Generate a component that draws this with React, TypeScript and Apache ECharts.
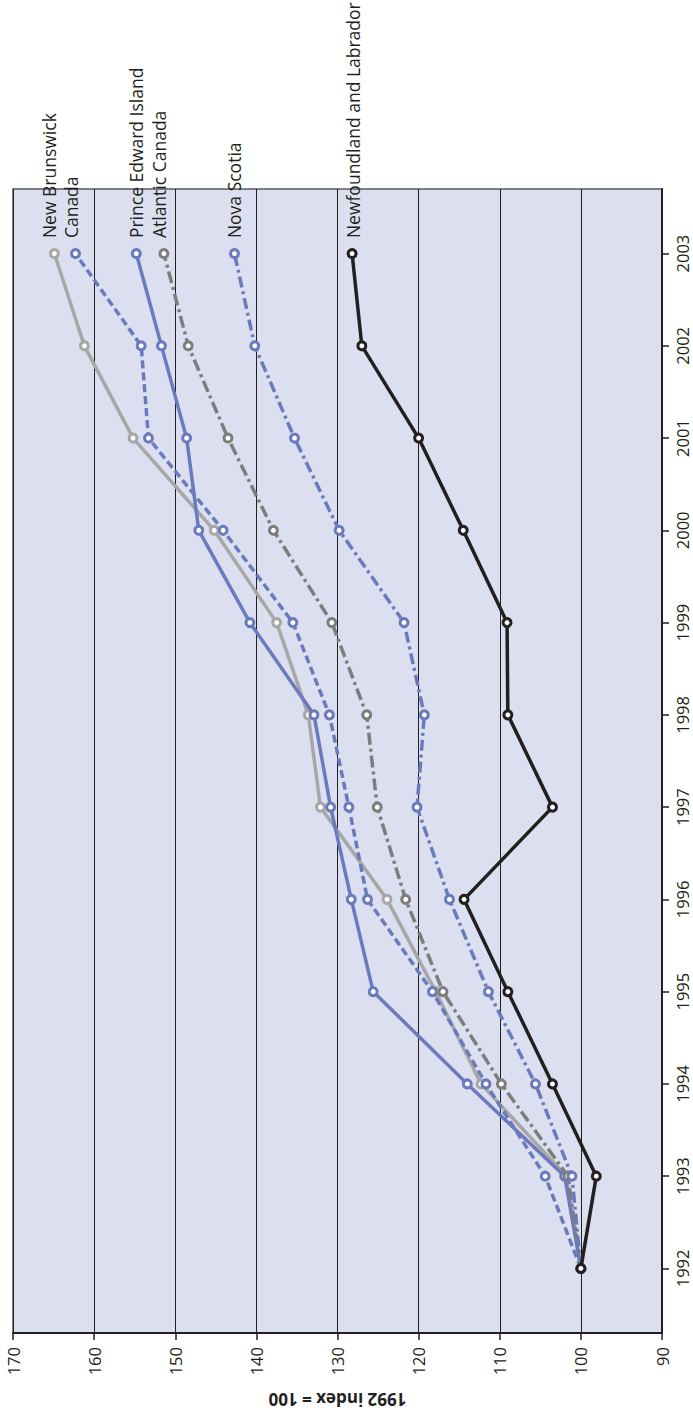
import React, { useEffect, useRef } from 'react';
import * as echarts from 'echarts';

// Years (values on the vertical axis)
const years = [1992, 1993, 1994, 1995, 1996, 1997, 1998, 1999, 2000, 2001, 2002, 2003];

// Index values, 1992 = 100
const newfoundland = [100, 98.1, 103.5, 109.0, 114.4, 103.5, 109.0, 109.1, 114.5, 120.0, 127.0, 128.2];
const newBrunswick = [100, 101.8, 112.3, 117.9, 123.9, 132.1, 133.6, 137.5, 145.2, 155.2, 161.2, 164.9];
const canada = [100, 104.4, 111.7, 118.3, 126.3, 128.6, 131.0, 135.5, 144.1, 153.3, 154.2, 162.3];
const princeEdward = [100, 102.0, 114.0, 125.6, 128.3, 130.85, 132.9, 140.8, 147.1, 148.6, 151.7, 154.8];
const atlantic = [100, 101.6, 109.8, 117.0, 121.6, 125.1, 126.4, 130.7, 137.9, 143.5, 148.4, 151.4];
const novaScotia = [100, 101.1, 105.6, 111.4, 116.2, 120.2, 119.3, 121.8, 129.8, 135.3, 140.2, 142.7];

const axisName = '1992 index = 100';

const FONT = "'Open Sans', 'Noto Sans', sans-serif";
const TEXT = '#231f20';
const BLUE = '#6a7abd';
const LIGHT_GRAY = '#a7a7a7';
const DARK_GRAY = '#7d7d7d';
const BLACK = '#231f20';
const BG = '#dcdfef';

type Def = { name: string; values: number[]; color: string; dash: any; shift: number; z: number };

const defs: Def[] = [
  { name: 'New Brunswick', values: newBrunswick, color: LIGHT_GRAY, dash: 'solid', shift: -5, z: 2 },
  { name: 'Canada', values: canada, color: BLUE, dash: [8, 4], shift: -4, z: 3 },
  { name: 'Prince Edward Island', values: princeEdward, color: BLUE, dash: 'solid', shift: 0, z: 4 },
  { name: 'Atlantic Canada', values: atlantic, color: DARK_GRAY, dash: [12, 4, 3, 4], shift: -5, z: 5 },
  { name: 'Nova Scotia', values: novaScotia, color: BLUE, dash: [11, 4, 3, 4], shift: 0, z: 6 },
  { name: 'Newfoundland and Labrador', values: newfoundland, color: BLACK, dash: 'solid', shift: 1, z: 7 },
];

export default function App() {
  const ref = useRef<HTMLDivElement>(null);

  useEffect(() => {
    if (!ref.current) return;
    const chart = echarts.init(ref.current, null, { renderer: 'svg' });

    const series = defs.map((d) => ({
      type: 'line',
      name: d.name,
      z: d.z,
      symbol: 'circle',
      symbolSize: 8,
      showAllSymbol: true,
      lineStyle: { color: d.color, width: 3.5, type: d.dash },
      itemStyle: { color: '#ffffff', borderColor: d.color, borderWidth: 3 },
      emphasis: { disabled: true },
      data: years.map((y, i) => {
        const item: any = { value: [d.values[i], y] };
        if (i === years.length - 1) {
          item.label = {
            show: true,
            formatter: '{a}',
            position: 'top',
            distance: 10,
            rotate: 90,
            align: 'left',
            verticalAlign: 'middle',
            offset: [0, d.shift],
            fontSize: 17.5,
            fontFamily: FONT,
            color: TEXT,
          };
        }
        return item;
      }),
    }));

    const option: any = {
      animation: false,
      backgroundColor: '#ffffff',
      textStyle: { fontFamily: FONT },
      grid: {
        left: 13,
        right: 31,
        top: 189,
        bottom: 85,
        show: true,
        backgroundColor: BG,
        borderColor: '#58595b',
        borderWidth: 1.5,
        containLabel: false,
        outerBoundsMode: 'none',
      },
      xAxis: {
        type: 'value',
        min: 90,
        max: 170,
        interval: 10,
        inverse: true,
        position: 'bottom',
        name: axisName,
        nameLocation: 'middle',
        nameRotate: 180,
        nameGap: 58,
        nameTextStyle: { fontSize: 17, fontWeight: 'bold', color: TEXT, fontFamily: FONT },
        axisLine: { show: true, onZero: false, lineStyle: { color: BLACK, width: 2 } },
        axisTick: { show: true, length: 7, lineStyle: { color: BLACK, width: 1.5 } },
        axisLabel: { rotate: 90, margin: 14, fontSize: 16.5, color: TEXT, fontFamily: FONT },
        splitLine: { show: true, lineStyle: { color: BLACK, width: 1 } },
      },
      yAxis: {
        type: 'value',
        min: 1991.3,
        max: 2003.7,
        position: 'right',
        axisLine: { show: true, onZero: false, lineStyle: { color: BLACK, width: 2 } },
        axisTick: { show: true, length: 7, customValues: years, lineStyle: { color: BLACK, width: 1.5 } },
        axisLabel: {
          show: true,
          customValues: years,
          rotate: 90,
          margin: 12,
          fontSize: 16.5,
          color: TEXT,
          fontFamily: FONT,
          formatter: (v: number) => String(v),
        },
        splitLine: { show: false },
      },
      series,
    };

    chart.setOption(option);
    return () => chart.dispose();
  }, []);

  return (
    <div
      ref={ref}
      style={{ position: 'absolute', left: 0, top: 0, width: 693, height: 1418 }}
    />
  );
}
